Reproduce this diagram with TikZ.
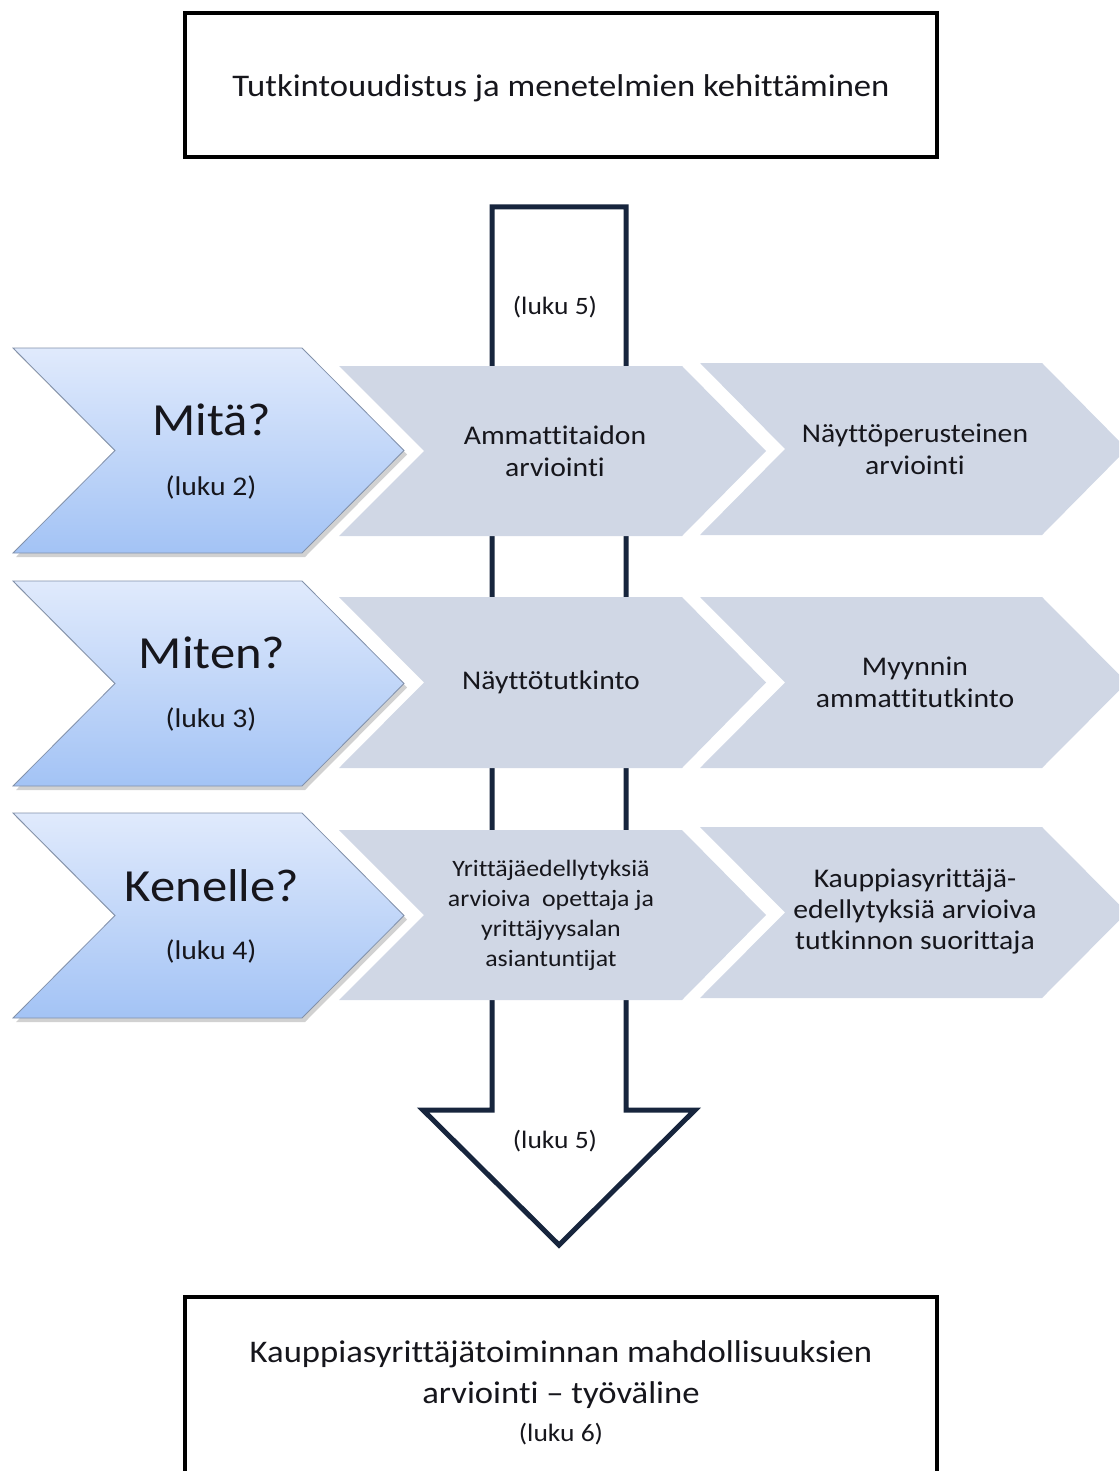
\documentclass[tikz,border=0pt]{standalone}
\usepackage{fontspec}
\setmainfont[FakeStretch=1.1,Ligatures={TeX,NoCommon}]{Carlito}
\usetikzlibrary{shadows}
\definecolor{navy}{RGB}{23,37,61}
\definecolor{chevgray}{RGB}{208,215,229}
\definecolor{bluetop}{RGB}{224,234,252}
\definecolor{bluebot}{RGB}{163,195,245}
\definecolor{blueedge}{RGB}{130,145,170}
\definecolor{txt}{RGB}{22,22,28}
\begin{document}
\begin{tikzpicture}[x=1pt,y=-1pt,
  framebox/.style={draw=black,line width=4pt,fill=white},
  bluechev/.style={top color=bluetop,bottom color=bluebot,draw=blueedge,line width=0.8pt,
     drop shadow={shadow xshift=3pt,shadow yshift=-4pt,opacity=0.3,fill=black!60}},
  graychev/.style={fill=chevgray,draw=none},
  bigq/.style={text=txt,font=\fontsize{46}{52}\selectfont},
  luku/.style={text=txt,font=\fontsize{27}{30}\selectfont},
  midtxt/.style={text=txt,align=center,font=\fontsize{27}{32}\selectfont},
  smalltxt/.style={text=txt,align=center,font=\fontsize{23.5}{30}\selectfont},
  arrowshape/.style={draw=navy,line width=5pt,fill=white,line join=miter}]
\useasboundingbox (0,0) rectangle (1119,1471);
\clip (0,0) rectangle (1119,1471);

% top box
\draw[framebox] (185,13) rectangle (937,157);
\node[text=txt,font=\fontsize{31.5}{36}\selectfont] (title) at (561,88) {Tutkintouudistus ja menetelmien kehittäminen};

% big down arrow
\draw[arrowshape] (492,207) -- (626,207) -- (626,1110) -- (695,1110) -- (559,1245)
   -- (423,1110) -- (492,1110) -- cycle;
\node[luku,font=\fontsize{25}{28}\selectfont] (l5a) at (555,307) {(luku 5)};
\node[luku,font=\fontsize{25}{28}\selectfont] (l5b) at (555,1141) {(luku 5)};

% blue chevrons
\foreach \t/\b in {348/553,581/786,813/1018}{
  \pgfmathsetmacro{\m}{(\t+\b)/2}
  \path[bluechev] (13,\t) -- (302,\t) -- (404,\m) -- (302,\b) -- (13,\b) -- (115,\m) -- cycle;
}

% gray chevrons (middle column)
\foreach \t/\b in {366/536,597/768,830/1000}{
  \pgfmathsetmacro{\m}{(\t+\b)/2}
  \fill[graychev] (339,\t) -- (682,\t) -- (766,\m) -- (682,\b) -- (339,\b) -- (424,\m) -- cycle;
}
% gray chevrons (right column)
\foreach \t/\b in {363/535,597/768,827/998}{
  \pgfmathsetmacro{\m}{(\t+\b)/2}
  \fill[graychev] (700,\t) -- (1042,\t) -- (1127,\m) -- (1042,\b) -- (700,\b) -- (785,\m) -- cycle;
}

% left labels
\node[bigq] (q1) at (212,420) {Mitä?};
\node[luku] (q1l) at (211,487) {(luku 2)};
\node[bigq] (q2) at (212,653) {Miten?};
\node[luku] (q2l) at (211,719) {(luku 3)};
\node[bigq] (q3) at (212,886) {Kenelle?};
\node[luku] (q3l) at (211,951) {(luku 4)};

% middle texts
\node[midtxt] (m1) at (555,451) {Ammattitaidon\\arviointi};
\node[midtxt] (m2) at (551,682) {Näyttötutkinto};
\node[smalltxt] (m3) at (551,915) {Yrittäjäedellytyksiä\\arvioiva\ \ opettaja ja\\yrittäjyysalan\\asiantuntijat};

% right texts
\node[midtxt] (r1) at (915,449) {Näyttöperusteinen\\arviointi};
\node[midtxt] (r2) at (915,682) {Myynnin\\ammattitutkinto};
\node[midtxt,font=\fontsize{27}{31}\selectfont] (r3) at (915,912) {Kauppiasyrittäjä-\\edellytyksiä arvioiva\\tutkinnon suorittaja};

% bottom box
\draw[framebox] (185,1297) rectangle (937,1490);
\node[text=txt,align=center,font=\fontsize{31.5}{41}\selectfont] (bt) at (561,1375) {Kauppiasyrittäjätoiminnan mahdollisuuksien\\arviointi – työväline};
\node[luku,font=\fontsize{25}{28}\selectfont] (bl) at (561,1434) {(luku 6)};
\end{tikzpicture}
\end{document}
